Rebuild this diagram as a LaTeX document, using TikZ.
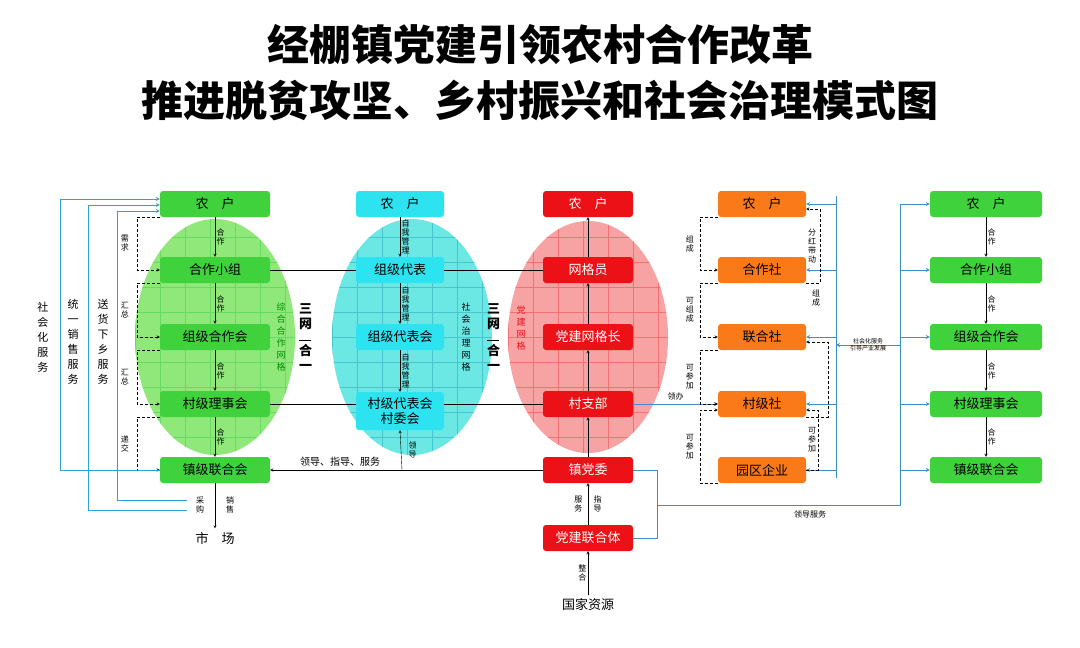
\documentclass[tikz,border=0pt]{standalone}
\usepackage{fontspec}
\setmainfont{Noto Sans CJK SC}
\usetikzlibrary{positioning}
\definecolor{gbox}{HTML}{3FD23C}
\definecolor{gell}{HTML}{8FE879}
\definecolor{cbox}{HTML}{2EE3F0}
\definecolor{cell}{HTML}{6BE8E4}
\definecolor{rbox}{HTML}{EC1017}
\definecolor{rell}{HTML}{F7A3A3}
\definecolor{obox}{HTML}{FA7A19}
\definecolor{blu}{HTML}{3A8FC8}
\tikzset{
  box/.style={rounded corners=3pt, minimum height=26pt, inner sep=1pt, font=\fontsize{13}{14}\selectfont},
  gb/.style={box, fill=gbox, text=black, minimum width=110pt},
  cb/.style={box, fill=cbox, text=black, minimum width=88pt},
  rb/.style={box, fill=rbox, text=white, minimum width=90pt},
  ob/.style={box, fill=obox, text=black, minimum width=88pt},
  pb/.style={box, fill=gbox, text=black, minimum width=112pt},
  lab/.style={font=\fontsize{8}{9}\selectfont, align=center, text width=9pt, inner sep=1pt},
  vlab/.style={font=\fontsize{11}{15}\selectfont, align=center, text width=12pt},
  dsh/.style={densely dashed, ->},
  bl/.style={blu, thick},
  >=stealth
}
\begin{document}
\begin{tikzpicture}[x=1pt, y=-1pt]
\useasboundingbox (0,0) rectangle (1080,648);

% title
\node[font=\fontsize{42}{46}\selectfont\bfseries] (t1) at (540,45) {经棚镇党建引领农村合作改革};
\node[font=\fontsize{42}{46}\selectfont\bfseries] (t2) at (540,100) {推进脱贫攻坚、乡村振兴和社会治理模式图};

% ellipses with grids
\begin{scope}
\fill[gell] (215,337) ellipse (80 and 118);
\clip (215,337) ellipse (80 and 118);
\foreach \i in {0,...,7} {
  \draw[gbox!80!white, very thin] (135+25*\i,210) -- (135+25*\i,460);
}
\foreach \j in {0,...,10} {
  \draw[gbox!80!white, very thin] (130,212+25*\j) -- (300,212+25*\j);
}
\end{scope}
\begin{scope}
\fill[cell] (412,337) ellipse (80 and 118);
\clip (412,337) ellipse (80 and 118);
\foreach \i in {0,...,7} {
  \draw[cbox!70!gray, very thin] (332+25*\i,210) -- (332+25*\i,460);
}
\foreach \j in {0,...,10} {
  \draw[cbox!70!gray, very thin] (330,212+25*\j) -- (500,212+25*\j);
}
\end{scope}
\begin{scope}
\fill[rell] (588,337) ellipse (80 and 116);
\clip (588,337) ellipse (80 and 116);
\foreach \i in {0,...,7} {
  \draw[rbox!60!white, very thin] (508+25*\i,210) -- (508+25*\i,460);
}
\foreach \j in {0,...,10} {
  \draw[rbox!60!white, very thin] (500,212+25*\j) -- (680,212+25*\j);
}
\end{scope}

% column 1
\node[gb] (g1) at (215,204) {农\quad 户};
\node[gb] (g2) at (215,270) {合作小组};
\node[gb] (g3) at (215,337) {组级合作会};
\node[gb] (g4) at (215,404) {村级理事会};
\node[gb] (g5) at (215,470) {镇级联合会};
\node (mk) at (215,538) {\fontsize{13}{14}\selectfont 市\quad 场};

% column 2
\node[cb] (c1) at (400,204) {农\quad 户};
\node[cb] (c2) at (400,270) {组级代表};
\node[cb] (c3) at (400,337) {组级代表会};
\node[cb, minimum height=38pt, align=center, font=\fontsize{13}{15}\selectfont] (c4) at (400,411) {村级代表会\\村委会};

% column 3
\node[rb] (r1) at (588,204) {农\quad 户};
\node[rb] (r2) at (588,270) {网格员};
\node[rb] (r3) at (588,337) {党建网格长};
\node[rb] (r4) at (588,404) {村支部};
\node[rb] (r5) at (588,470) {镇党委};
\node[rb] (r6) at (588,538) {党建联合体};
\node (gj) at (588,605) {\fontsize{13}{14}\selectfont 国家资源};

% column 4
\node[ob] (o1) at (762,204) {农\quad 户};
\node[ob] (o2) at (762,270) {合作社};
\node[ob] (o3) at (762,337) {联合社};
\node[ob] (o4) at (762,404) {村级社};
\node[ob] (o5) at (762,470) {园区企业};

% column 5
\node[pb] (p1) at (986,204) {农\quad 户};
\node[pb] (p2) at (986,270) {合作小组};
\node[pb] (p3) at (986,337) {组级合作会};
\node[pb] (p4) at (986,404) {村级理事会};
\node[pb] (p5) at (986,470) {镇级联合会};

% vertical arrows
\foreach \a/\b in {g1/g2, g2/g3, g3/g4, g4/g5}
  \draw[->] (\a) -- (\b) node[midway, right, lab] {合\\作};
\foreach \a/\b in {c1/c2, c2/c3, c3/c4}
  \draw[->] (\a) -- (\b) node[midway, right, lab] {自\\我\\管\\理};
\foreach \a/\b in {r2/r1, r3/r2, r4/r3, r5/r4}
  \draw[->] (\a) -- (\b);
\foreach \a/\b in {p1/p2, p2/p3, p3/p4, p4/p5}
  \draw[->] (\a) -- (\b) node[midway, right, lab] {合\\作};
\draw[->] (g5) -- (mk);
\draw[->] (r6) -- (r5) node[midway, left, lab, xshift=-4pt] {服\\务} node[midway, right, lab, xshift=4pt] {指\\导};
\draw[->] (gj) -- (r6) node[midway, left, lab] {整\\合};

% links between the nets
\draw (g2.east) -- (c2.west);
\draw (c2.east) -- (r2.west);
\draw (g4.east) -- (g4.east -| c4.west);
\draw (c4.east |- r4) -- (r4.west);
\node[vlab, font=\fontsize{13}{15}\selectfont\bfseries] (sw1) at (305,337) {三\\网\\[-3pt]\rule{12pt}{0.6pt}\\合\\一};
\node[vlab, font=\fontsize{13}{15}\selectfont\bfseries] (sw2) at (493,337) {三\\网\\[-3pt]\rule{12pt}{0.6pt}\\合\\一};
\node[vlab, text=green!55!black, font=\fontsize{9}{12}\selectfont] (n1) at (281,337) {综\\合\\合\\作\\网\\格};
\node[vlab, font=\fontsize{9}{12}\selectfont] (n2) at (466,337) {社\\会\\治\\理\\网\\格};
\node[vlab, text=rbox, font=\fontsize{9}{12}\selectfont] (n3) at (521,328) {党\\建\\网\\格};

% leadership to the town union
\draw[->] (r5.west) -- (g5.east);
\node[font=\fontsize{10}{11}\selectfont] (ld) at (340,462) {领导、指导、服务};
\coordinate (lb) at (402,470);
\draw[->] (lb) -- (c4.south) node[midway, right, lab, xshift=6pt] {领\\导};

% dashed links, column 1
\draw[dsh] (g1.south west) -- ++(-23,0) |- (g2.west) node[pos=0.25, lab, xshift=-12pt] {需\\求};
\draw[dsh] (g2.south west) -- ++(-23,0) |- (g3.west) node[pos=0.25, lab, xshift=-12pt] {汇\\总};
\draw[dsh] (g3.south west) -- ++(-23,0) |- (g4.west) node[pos=0.25, lab, xshift=-12pt] {汇\\总};
\draw[dsh] (g4.south west) -- ++(-23,0) |- (g5.west) node[pos=0.25, lab, xshift=-12pt] {递\\交};

% services, left
\coordinate (s1) at (187,500);
\coordinate (s2) at (187,510);
\draw[bl, ->, cyan!60!blu] (g5.west) -- (60,470) |- ([yshift=5pt]g1.west);
\draw[bl, ->, cyan!60!blu] (s2) -- (88,510) |- ([yshift=-1pt]g1.west);
\draw[bl, ->, cyan!60!blu] (s1) -- (117,500) |- ([yshift=-7pt]g1.west);
\node[vlab] (v1) at (43,337) {社\\会\\化\\服\\务};
\node[vlab] (v2) at (73,342) {统\\一\\销\\售\\服\\务};
\node[vlab] (v3) at (103,342) {送\\货\\下\\乡\\服\\务};
\node[lab] (cg) at (200,505) {采\\购};
\node[lab] (xs) at (230,505) {销\\售};

% blue links, right
\coordinate (k1) at (657,470);
\coordinate (k2) at (657,505);
\coordinate (k3) at (900,505);
\draw[bl] (r5.east) -- (k1) -- (k1 |- r6) -- (r6.east);
\draw[bl] (k2) -- (k3) -- (900,204);
\foreach \p in {p1, p2, p3, p4, p5}
  \draw[bl, ->] (900,0 |- \p) -- (\p.west);
\node[font=\fontsize{8}{9}\selectfont] (ldfw) at (810,514) {领导服务};
\draw[bl, ->] (r4.east) -- (o4.west) node[midway, above, font=\fontsize{8}{9}\selectfont, text=black] {领办};
\draw[bl] (836,196) -- (836,478);
\foreach \o in {o1, o2, o3, o4, o5}
  \draw[bl, ->] (836,0 |- \o) -- (\o.east);
\draw[bl, ->] (900,345) -- (836,345);
\node[font=\fontsize{6}{7}\selectfont, align=center] (shh) at (868,345) {社会化服务\\引导产业发展};

% dashed links, column 4
\draw[dsh] (o1.south west) -- ++(-18,0) |- (o2.west) node[pos=0.25, lab, xshift=-10pt] {组\\成};
\draw[dsh] (o2.south west) -- ++(-18,0) |- (o3.west) node[pos=0.25, lab, xshift=-10pt] {可\\组\\成};
\draw[dsh] (o3.south west) -- ++(-18,0) |- (o4.west) node[pos=0.25, lab, xshift=-10pt] {可\\参\\加};
\draw[dsh] (o5.south west) -- ++(-18,0) |- ([yshift=-6pt]o4.west) node[pos=0.25, lab, xshift=-10pt] {可\\参\\加};
\draw[dsh] (o2.south east) -- ++(14,0) |- ([yshift=-5pt]o1.east) node[pos=0.25, lab, xshift=-8pt] {分\\红\\带\\动};
\draw[dsh] (o4.south east) -- ++(22,0) |- ([yshift=-5pt]o3.east);
\node[lab] (zc) at (816,298) {组\\成};
\draw[dsh] (o5.east) -- ++(12,0) |- ([yshift=-6pt]o4.east) node[pos=0.25, lab, xshift=-6pt] {可\\参\\加};

\end{tikzpicture}
\end{document}
